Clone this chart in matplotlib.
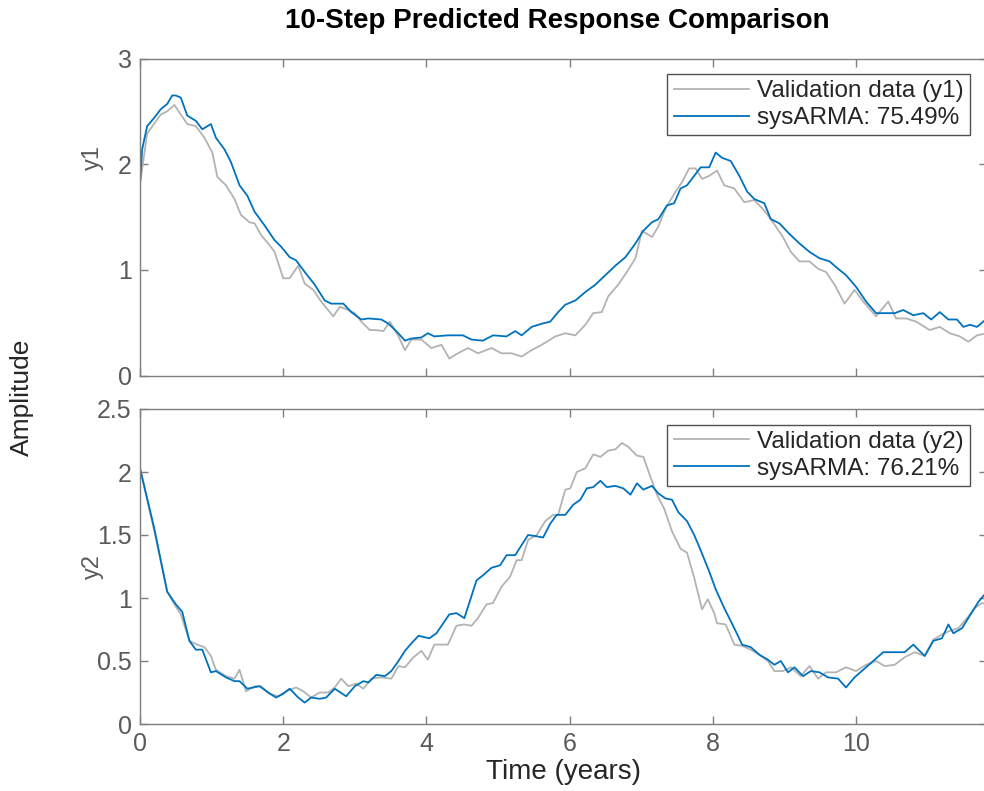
import matplotlib
matplotlib.use("Agg")
import matplotlib.pyplot as plt

plt.rcParams['font.family'] = ['Liberation Sans', 'DejaVu Sans']

# ---- data ----
t_y1_val = [0.0, 0.10, 0.29, 0.38, 0.48, 0.57, 0.66, 0.78, 0.90, 1.01, 1.08, 1.20, 1.32, 1.41, 1.53, 1.60,
            1.69, 1.79, 1.88, 2.00, 2.09, 2.21, 2.30, 2.42, 2.53, 2.70, 2.79, 2.91, 3.00, 3.09, 3.21, 3.30,
            3.40, 3.49, 3.61, 3.70, 3.79, 3.93, 4.07, 4.21, 4.32, 4.44, 4.58, 4.72, 4.91, 5.05, 5.19, 5.33,
            5.47, 5.61, 5.80, 5.94, 6.08, 6.22, 6.33, 6.45, 6.54, 6.68, 6.80, 6.92, 7.01, 7.15, 7.24, 7.34,
            7.48, 7.57, 7.67, 7.76, 7.85, 7.95, 8.06, 8.16, 8.30, 8.44, 8.58, 8.72, 8.84, 8.98, 9.09, 9.21,
            9.35, 9.47, 9.58, 9.70, 9.84, 9.98, 10.10, 10.28, 10.45, 10.56, 10.70, 10.84, 11.03, 11.17,
            11.31, 11.45, 11.57, 11.69, 11.83]
y1_val = [1.81, 2.29, 2.47, 2.50, 2.56, 2.47, 2.38, 2.36, 2.25, 2.11, 1.88, 1.80, 1.67, 1.52, 1.45, 1.44,
          1.33, 1.25, 1.17, 0.92, 0.92, 1.04, 0.87, 0.81, 0.70, 0.56, 0.65, 0.62, 0.59, 0.51, 0.43, 0.43,
          0.42, 0.51, 0.37, 0.24, 0.34, 0.34, 0.26, 0.29, 0.16, 0.21, 0.26, 0.21, 0.26, 0.21, 0.21, 0.18,
          0.24, 0.29, 0.37, 0.40, 0.38, 0.48, 0.59, 0.60, 0.75, 0.86, 0.98, 1.11, 1.37, 1.31, 1.41, 1.58,
          1.74, 1.83, 1.96, 1.96, 1.86, 1.89, 1.94, 1.80, 1.77, 1.64, 1.66, 1.56, 1.45, 1.31, 1.17, 1.08,
          1.08, 1.01, 0.98, 0.86, 0.68, 0.81, 0.70, 0.56, 0.70, 0.54, 0.54, 0.51, 0.43, 0.46,
          0.40, 0.37, 0.32, 0.38, 0.40]

t_y1_fit = [0.0, 0.03, 0.10, 0.20, 0.29, 0.38, 0.45, 0.50, 0.57, 0.66, 0.78, 0.87, 0.99, 1.06, 1.18, 1.27,
            1.39, 1.50, 1.60, 1.74, 1.88, 1.97, 2.09, 2.18, 2.30, 2.44, 2.58, 2.67, 2.84, 2.95, 3.09, 3.19,
            3.37, 3.47, 3.58, 3.70, 3.79, 3.93, 4.02, 4.11, 4.30, 4.51, 4.63, 4.79, 4.93, 5.12, 5.24, 5.33,
            5.47, 5.61, 5.73, 5.84, 5.94, 6.08, 6.22, 6.36, 6.50, 6.64, 6.78, 6.92, 7.03, 7.15, 7.24, 7.36,
            7.46, 7.55, 7.64, 7.74, 7.83, 7.95, 8.04, 8.13, 8.25, 8.37, 8.48, 8.58, 8.72, 8.81, 8.93, 9.07,
            9.21, 9.35, 9.49, 9.63, 9.75, 9.86, 10.00, 10.14, 10.28, 10.40, 10.54, 10.66, 10.80, 10.94,
            11.05, 11.17, 11.29, 11.41, 11.50, 11.59, 11.69, 11.83]
y1_fit = [1.81, 2.14, 2.36, 2.44, 2.52, 2.57, 2.65, 2.65, 2.63, 2.46, 2.41, 2.33, 2.38, 2.25, 2.14, 2.02,
          1.80, 1.70, 1.55, 1.42, 1.28, 1.22, 1.12, 1.09, 0.98, 0.86, 0.71, 0.68, 0.68, 0.60, 0.53, 0.54,
          0.53, 0.49, 0.42, 0.33, 0.35, 0.36, 0.40, 0.37, 0.38, 0.38, 0.34, 0.33, 0.38, 0.37, 0.42, 0.38,
          0.46, 0.49, 0.51, 0.60, 0.67, 0.71, 0.79, 0.86, 0.95, 1.04, 1.12, 1.25, 1.37, 1.45, 1.48, 1.61,
          1.63, 1.77, 1.80, 1.89, 1.97, 1.97, 2.11, 2.06, 2.03, 1.89, 1.74, 1.67, 1.63, 1.48, 1.44, 1.34,
          1.25, 1.17, 1.11, 1.08, 1.01, 0.95, 0.84, 0.70, 0.59, 0.59, 0.59, 0.62, 0.57, 0.59,
          0.53, 0.60, 0.53, 0.53, 0.46, 0.48, 0.46, 0.54]

t_y2_val = [0.0, 0.20, 0.38, 0.48, 0.57, 0.69, 0.80, 0.90, 0.99, 1.06, 1.20, 1.32, 1.39, 1.48, 1.60, 1.69,
            1.81, 1.93, 2.04, 2.18, 2.28, 2.39, 2.51, 2.63, 2.72, 2.81, 2.91, 3.02, 3.12, 3.23, 3.37, 3.51,
            3.61, 3.70, 3.82, 3.93, 4.02, 4.11, 4.30, 4.42, 4.53, 4.63, 4.72, 4.84, 4.93, 5.05, 5.17, 5.26,
            5.33, 5.42, 5.54, 5.66, 5.77, 5.84, 5.94, 6.01, 6.10, 6.22, 6.33, 6.43, 6.54, 6.64, 6.73, 6.82,
            6.94, 7.03, 7.13, 7.22, 7.32, 7.43, 7.55, 7.64, 7.74, 7.85, 7.93, 8.02, 8.06, 8.18, 8.30, 8.41,
            8.53, 8.65, 8.77, 8.86, 8.98, 9.09, 9.23, 9.35, 9.47, 9.58, 9.72, 9.86, 10.00, 10.14, 10.28,
            10.40, 10.54, 10.68, 10.82, 10.96, 11.08, 11.20, 11.31, 11.43, 11.55, 11.66, 11.76, 11.83]
y2_val = [2.03, 1.53, 1.05, 0.95, 0.87, 0.66, 0.63, 0.61, 0.54, 0.43, 0.38, 0.36, 0.43, 0.26, 0.30, 0.30,
          0.24, 0.22, 0.26, 0.29, 0.26, 0.21, 0.25, 0.25, 0.29, 0.36, 0.30, 0.32, 0.28, 0.36, 0.37, 0.36,
          0.46, 0.45, 0.53, 0.58, 0.51, 0.63, 0.63, 0.78, 0.79, 0.78, 0.84, 0.95, 0.96, 1.09, 1.17, 1.30,
          1.30, 1.46, 1.50, 1.61, 1.66, 1.66, 1.86, 1.87, 2.00, 2.03, 2.14, 2.12, 2.17, 2.18, 2.23, 2.20,
          2.13, 2.12, 1.96, 1.82, 1.71, 1.53, 1.39, 1.36, 1.16, 0.91, 0.99, 0.88, 0.80, 0.79, 0.63, 0.62,
          0.59, 0.55, 0.50, 0.42, 0.42, 0.45, 0.38, 0.46, 0.36, 0.41, 0.41, 0.45, 0.42, 0.47, 0.50,
          0.46, 0.47, 0.53, 0.57, 0.54, 0.67, 0.71, 0.74, 0.76, 0.84, 0.92, 0.96, 0.95]

t_y2_fit = [0.0, 0.20, 0.38, 0.50, 0.59, 0.69, 0.78, 0.87, 0.99, 1.06, 1.20, 1.32, 1.39, 1.50, 1.67, 1.79,
            1.90, 2.00, 2.09, 2.21, 2.30, 2.39, 2.51, 2.60, 2.72, 2.88, 3.00, 3.12, 3.19, 3.30, 3.42, 3.51,
            3.61, 3.70, 3.79, 3.89, 4.04, 4.14, 4.32, 4.42, 4.53, 4.70, 4.79, 4.91, 5.03, 5.12, 5.24, 5.42,
            5.54, 5.63, 5.73, 5.82, 5.94, 6.05, 6.15, 6.24, 6.33, 6.43, 6.52, 6.64, 6.75, 6.85, 6.94, 7.03,
            7.15, 7.24, 7.34, 7.43, 7.52, 7.64, 7.74, 7.83, 7.95, 8.04, 8.16, 8.30, 8.41, 8.53, 8.65, 8.77,
            8.86, 8.95, 9.05, 9.14, 9.26, 9.37, 9.49, 9.61, 9.75, 9.86, 9.98, 10.10, 10.24, 10.38, 10.54,
            10.68, 10.80, 10.96, 11.08, 11.20, 11.29, 11.36, 11.48, 11.59, 11.71, 11.83]
y2_fit = [2.03, 1.55, 1.05, 0.95, 0.89, 0.66, 0.59, 0.59, 0.41, 0.42, 0.37, 0.34, 0.34, 0.28, 0.30, 0.25,
          0.21, 0.24, 0.28, 0.21, 0.17, 0.21, 0.20, 0.21, 0.28, 0.22, 0.30, 0.34, 0.33, 0.39, 0.38, 0.42,
          0.50, 0.58, 0.64, 0.70, 0.68, 0.72, 0.87, 0.88, 0.84, 1.14, 1.18, 1.24, 1.26, 1.34, 1.34, 1.50,
          1.49, 1.48, 1.59, 1.66, 1.66, 1.74, 1.78, 1.87, 1.88, 1.93, 1.88, 1.89, 1.87, 1.82, 1.91, 1.86,
          1.89, 1.83, 1.79, 1.78, 1.68, 1.61, 1.50, 1.38, 1.21, 1.07, 0.92, 0.76, 0.63, 0.61, 0.55, 0.51,
          0.47, 0.50, 0.41, 0.45, 0.38, 0.42, 0.41, 0.37, 0.36, 0.29, 0.37, 0.43, 0.50, 0.57, 0.57,
          0.57, 0.63, 0.54, 0.66, 0.68, 0.79, 0.72, 0.76, 0.86, 0.97, 1.05]

labels_val = ["Validation data (y1)", "Validation data (y2)"]
labels_fit = ["sysARMA: 75.49%", "sysARMA: 76.21%"]
xticks = [0, 2, 4, 6, 8, 10]
yticks_top = [0, 1, 2, 3]
yticks_bot = [0, 0.5, 1, 1.5, 2, 2.5]

GRAY = '#b3b3b3'
BLUE = '#0072BD'
AXC = '#262626'
TICKC = '#5a5a5a'
SPINEC = '#7f7f7f'

fig = plt.figure(figsize=(9.84, 7.91), dpi=100)
ax1 = fig.add_axes([140/984, 1-375.5/791, (987-140)/984, 317/791])
ax2 = fig.add_axes([140/984, 1-724/791, (987-140)/984, 315/791])

xmax = (987-140)/71.6

def style(ax, yt, ylim):
    ax.set_xlim(0, xmax)
    ax.set_ylim(*ylim)
    ax.set_xticks(xticks)
    ax.set_yticks(yt)
    ax.set_yticklabels([f"{v:g}" for v in yt])
    ax.tick_params(direction='in', length=6, width=1, top=True, right=True,
                   colors=SPINEC, labelcolor=TICKC, labelsize=18, pad=6)
    for s in ax.spines.values():
        s.set_color(SPINEC)
        s.set_linewidth(1)

ax1.plot(t_y1_val, y1_val, color=GRAY, lw=1.3, label=labels_val[0])
ax1.plot(t_y1_fit, y1_fit, color=BLUE, lw=1.3, label=labels_fit[0])
style(ax1, yticks_top, (0, 3))
ax1.tick_params(labelbottom=False)
ax1.set_ylabel("y1", fontsize=17, color=TICKC)
ax1.yaxis.set_label_coords(-36/847, (376-158)/317)

ax2.plot(t_y2_val, y2_val, color=GRAY, lw=1.3, label=labels_val[1])
ax2.plot(t_y2_fit, y2_fit, color=BLUE, lw=1.3, label=labels_fit[1])
style(ax2, yticks_bot, (0, 2.5))
ax2.set_ylabel("y2", fontsize=17, color=TICKC)
ax2.yaxis.set_label_coords(-36/847, 0.5)
ax2.set_xlabel("Time (years)", fontsize=20, color=AXC, labelpad=2)

for ax in (ax1, ax2):
    leg = ax.legend(loc='upper right', bbox_to_anchor=(0.98, 0.95), fontsize=17.5,
                    frameon=True, fancybox=False, handlelength=3.1, handletextpad=0.35,
                    borderpad=0.25, labelspacing=0.2, borderaxespad=0)
    leg.get_frame().set_edgecolor('#262626')
    leg.get_frame().set_linewidth(1.0)
    for txt in leg.get_texts():
        txt.set_color(AXC)

fig.text(22/984, 1-397/791, "Amplitude", rotation=90, fontsize=19, color=AXC,
         ha='center', va='center')
fig.text(557/984, 1-21/791, "10-Step Predicted Response Comparison", fontsize=20,
         fontweight='bold', color='black', ha='center', va='center')

fig.savefig("out.png", dpi=100)
